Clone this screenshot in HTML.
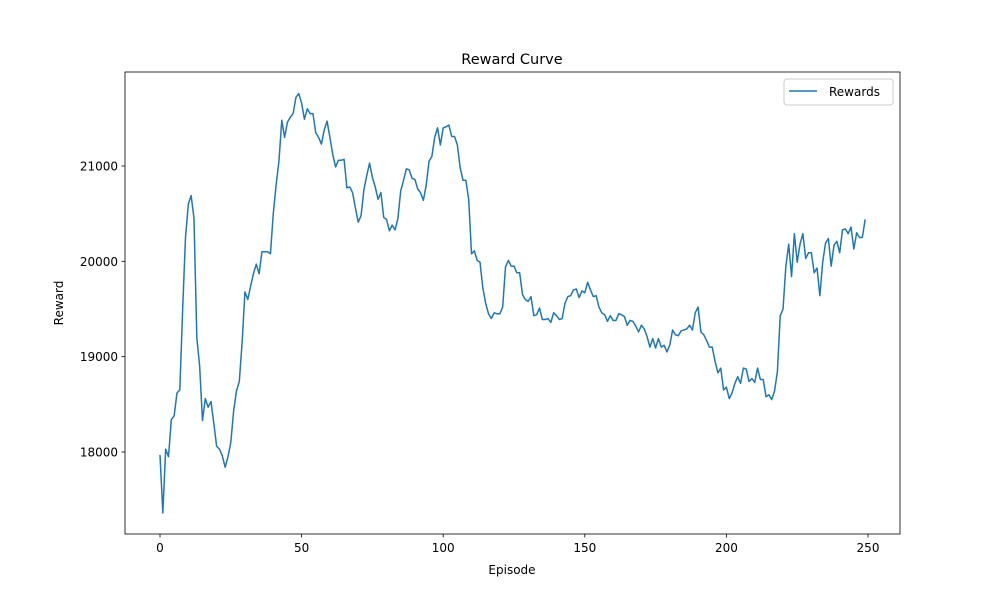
<!DOCTYPE html>
<html><head><meta charset="utf-8"><style>
body{margin:0;background:#fff;}
svg text{font-family:"DejaVu Sans","Liberation Sans",sans-serif;fill:#000;}
</style></head><body>
<svg id="chart" width="1000" height="600" xmlns="http://www.w3.org/2000/svg">
<rect width="1000" height="600" fill="#fff"/>
<g id="plot"></g>
</svg>
<script>
const xTicks=[0,50,100,150,200,250];
const yTicks=[18000,19000,20000,21000];
const rewards=[17970,17360,18030,17950,18340,18380,18620,18650,19500,20250,20600,20690,20450,19200,18900,18330,18560,18470,18530,18300,18060,18030,17960,17840,17950,18100,18430,18640,18740,19150,19680,19600,19740,19870,19970,19870,20100,20100,20100,20080,20500,20800,21050,21480,21300,21460,21510,21550,21720,21760,21660,21490,21600,21550,21550,21350,21300,21230,21380,21470,21300,21120,20990,21060,21060,21070,20770,20780,20720,20560,20410,20480,20750,20900,21030,20880,20780,20650,20720,20460,20440,20320,20380,20330,20450,20740,20850,20970,20960,20870,20860,20760,20720,20640,20800,21050,21100,21300,21400,21220,21400,21410,21430,21310,21310,21220,20980,20850,20850,20650,20080,20110,20010,19990,19720,19560,19450,19400,19460,19450,19450,19520,19940,20010,19950,19950,19880,19880,19650,19600,19580,19630,19430,19440,19510,19390,19390,19400,19360,19460,19430,19390,19400,19560,19630,19640,19700,19710,19620,19690,19670,19780,19700,19630,19640,19520,19460,19440,19370,19430,19380,19380,19450,19440,19420,19330,19380,19370,19320,19260,19330,19290,19210,19100,19190,19090,19190,19100,19120,19050,19120,19280,19230,19220,19270,19280,19290,19330,19280,19460,19520,19260,19230,19170,19100,19100,18950,18830,18880,18650,18680,18560,18620,18720,18790,18720,18880,18870,18740,18770,18730,18880,18760,18760,18580,18600,18550,18640,18840,19430,19500,19950,20180,19840,20290,19990,20180,20290,20030,20090,20090,19880,19930,19640,19990,20190,20240,19950,20170,20210,20090,20330,20340,20290,20360,20130,20300,20250,20250,20440];
const NS="http://www.w3.org/2000/svg";
const L=125,R=900,T=72,B=534;
const xs=v=>160+v*(868-160)/250;
const ys=v=>452-(v-18000)*(452-166)/3000;
const g=document.getElementById('plot');
function mk(tag,at,txt){const e=document.createElementNS(NS,tag);for(const k in at)e.setAttribute(k,at[k]);if(txt!==undefined)e.textContent=txt;g.appendChild(e);return e;}
let d=rewards.map((v,i)=>(i?'L':'M')+xs(i).toFixed(2)+','+ys(v).toFixed(2)).join(' ');
const line=mk('path',{d:d,fill:'none',stroke:'#1f77b4','stroke-width':1.5,'stroke-linejoin':'round'});


const frame=mk('rect',{x:L,y:T,width:R-L,height:B-T,fill:'none',stroke:'#000','stroke-width':0.8});


xTicks.forEach(t=>{const x=xs(t);
 const tk=mk('line',{x1:x,x2:x,y1:B,y2:B+3.5,stroke:'#000','stroke-width':0.8});
 
 
 const lb=mk('text',{x:x,y:B+18,'font-size':12,'text-anchor':'middle'},String(t));
 
 
});
yTicks.forEach(t=>{const y=ys(t);
 const tk=mk('line',{x1:L-3.5,x2:L,y1:y,y2:y,stroke:'#000','stroke-width':0.8});
 
 
 const lb=mk('text',{x:L-7,y:y+4.5,'font-size':12,'text-anchor':'end'},String(t));
 
 
});
const title=mk('text',{x:512,y:64,'font-size':14.5,'text-anchor':'middle'},'Reward Curve');


const xl=mk('text',{x:512,y:574,'font-size':12,'text-anchor':'middle'},'Episode');


const yl=mk('text',{x:63,y:303,'font-size':12,'text-anchor':'middle',transform:'rotate(-90 63 303)'},'Reward');


const lg=mk('rect',{x:784,y:79,width:109,height:26,rx:3,fill:'#fff',stroke:'#ccc','stroke-width':1});


const ll=mk('line',{x1:789,x2:817,y1:91,y2:91,stroke:'#1f77b4','stroke-width':1.5});


const lt=mk('text',{x:829,y:96,'font-size':12},'Rewards');


</script>
</body></html>
